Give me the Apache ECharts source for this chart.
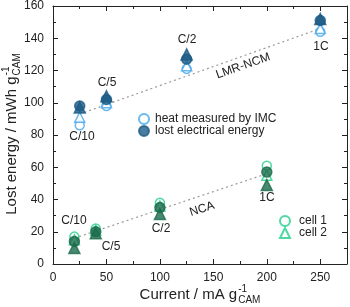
<!DOCTYPE html>
<html><head><meta charset="utf-8">
<script src="https://cdn.jsdelivr.net/npm/echarts@6/dist/echarts.min.js"></script>
<style>html,body{margin:0;padding:0;background:#fff}#c{width:350px;height:307px}</style>
</head><body><div id="c"></div>
<script>
// ---- data ----
const xTicks = [0, 50, 100, 150, 200, 250];
const yTicks = [0, 20, 40, 60, 80, 100, 120, 140, 160];
const lmrCurrent = [25, 50, 125, 250];
const lmrRates = ['C/10', 'C/5', 'C/2', '1C'];
const lmrHeatCell1 = [86, 98, 121, 144];
const lmrHeatCell2 = [91, 100, 123, 146];
const lmrLostCell1 = [98, 102, 127, 151];
const lmrLostCell2 = [97, 104, 130, 152];
const ncaCurrent = [20, 40, 100, 200];
const ncaRates = ['C/10', 'C/5', 'C/2', '1C'];
const ncaHeatCell1 = [17, 22, 38, 61];
const ncaHeatCell2 = [15, 21, 36, 55];
const ncaLostCell1 = [14, 20, 35, 57];
const ncaLostCell2 = [10, 19, 31, 49];
const lmrTrendX = [25, 250];
const lmrTrendY = [93, 146];
const ncaTrendX = [20, 200];
const ncaTrendY = [16, 56];

const FONT = 'Arial, "Liberation Sans", sans-serif';
const TXT = '#222';
const C_LB = '#45a6ee', C_DB = '#1b5b86', C_LG = '#22d08c', C_DG = '#1c6b4b';

const zip = (xs, ys) => xs.map((x, i) => [x, ys[i]]);

function scatter(name, xs, ys, symbol, size, fill, stroke, z) {
  return {
    type: 'scatter', name, data: zip(xs, ys), symbol, symbolSize: size, z,
    itemStyle: { color: fill, borderColor: stroke, borderWidth: 1.5 },
    emphasis: { disabled: true }
  };
}

const chart = echarts.init(document.getElementById('c'), null, { renderer: 'canvas' });

const axisCommon = {
  axisLine: { show: true, onZero: false, lineStyle: { color: '#222', width: 1 } },
  axisTick: { show: true, inside: true, length: 5, lineStyle: { color: '#222' } },
  minorTick: { show: true, splitNumber: 2, length: 3, lineStyle: { color: '#222' } },
  splitLine: { show: false }
};

const ctx = document.createElement('canvas').getContext('2d');
function tw(text, size) { ctx.font = size + 'px Arial, "Liberation Sans"'; return ctx.measureText(text).width; }

function axisTitle(main, cx, cy, rot) {
  const fs = 15, ss = 10;
  const w1 = tw(main, fs), w2 = tw('CAM', ss);
  const total = w1 + w2 + 1;
  const x0 = -total / 2;
  return {
    type: 'group', x: cx, y: cy, rotation: rot,
    children: [
      { type: 'text', x: x0, y: 0, style: { text: main, fill: TXT, font: fs + 'px ' + FONT, textAlign: 'left', textVerticalAlign: 'middle' } },
      { type: 'text', x: x0 + w1 + 1, y: 5, style: { text: 'CAM', fill: TXT, font: ss + 'px ' + FONT, textAlign: 'left', textVerticalAlign: 'middle' } },
      { type: 'text', x: x0 + w1 + 1, y: -6, style: { text: '-1', fill: TXT, font: ss + 'px ' + FONT, textAlign: 'left', textVerticalAlign: 'middle' } }
    ]
  };
}

function label(text, x, y, rot) {
  return { type: 'text', x, y, rotation: rot || 0, style: { text, fill: TXT, font: '12px ' + FONT, textAlign: 'center', textVerticalAlign: 'middle' }, z: 50 };
}

const option = {
  animation: false,
  backgroundColor: '#fff',
  grid: { left: 53, right: 2, top: 6, bottom: 43, containLabel: false },
  xAxis: [
    Object.assign({ type: 'value', min: 0, max: 275, interval: 50, position: 'bottom',
      axisLabel: { color: TXT, fontSize: 12, fontFamily: FONT, margin: 8,
        formatter: v => xTicks.includes(v) ? String(v) : '' } }, axisCommon),
    Object.assign({ type: 'value', min: 0, max: 275, interval: 50, position: 'top',
      axisLabel: { show: false } }, axisCommon)
  ],
  yAxis: [
    Object.assign({ type: 'value', min: 0, max: 160, interval: 20, position: 'left',
      axisLabel: { color: TXT, fontSize: 12, fontFamily: FONT, margin: 9,
        formatter: v => yTicks.includes(v) ? String(v) : '' } }, axisCommon),
    Object.assign({ type: 'value', min: 0, max: 160, interval: 20, position: 'right',
      axisLabel: { show: false } }, axisCommon)
  ],
  legend: [
    { orient: 'vertical', left: 133, top: 108, itemWidth: 10, itemHeight: 10, itemGap: 0,
      data: ['heat measured by IMC', 'lost electrical energy'],
      textStyle: { color: TXT, fontSize: 12, fontFamily: FONT, padding: [0, 0, 0, 1] }, selectedMode: false },
    { orient: 'vertical', left: 274, top: 210, itemWidth: 10, itemHeight: 10, itemGap: 0,
      data: ['cell 1', 'cell 2'],
      textStyle: { color: TXT, fontSize: 12, fontFamily: FONT, padding: [0, 0, 0, 4] }, selectedMode: false }
  ],
  series: [
    { type: 'line', data: zip(lmrTrendX, lmrTrendY), symbol: 'none', lineStyle: { color: '#9a9a9a', width: 1.2, type: [2, 3] }, z: 1, silent: true },
    { type: 'line', data: zip(ncaTrendX, ncaTrendY), symbol: 'none', lineStyle: { color: '#9a9a9a', width: 1.2, type: [2, 3] }, z: 1, silent: true },
    scatter('heat measured by IMC', lmrCurrent, lmrHeatCell1, 'circle', 9, '#fff', C_LB, 3),
    scatter('lmr heat c2', lmrCurrent, lmrHeatCell2, 'triangle', 10, '#fff', C_LB, 3),
    scatter('lost electrical energy', lmrCurrent, lmrLostCell1, 'circle', 10, C_DB, C_DB, 4),
    scatter('lmr lost c2', lmrCurrent, lmrLostCell2, 'triangle', 11, C_DB, C_DB, 4),
    scatter('cell 1', ncaCurrent, ncaHeatCell1, 'circle', 9, '#fff', C_LG, 3),
    scatter('cell 2', ncaCurrent, ncaHeatCell2, 'triangle', 10, '#fff', C_LG, 3),
    scatter('nca lost c1', ncaCurrent, ncaLostCell1, 'circle', 10, C_DG, C_DG, 4),
    scatter('nca lost c2', ncaCurrent, ncaLostCell2, 'triangle', 11, C_DG, C_DG, 4)
  ],
  graphic: [
    axisTitle('Current / mA g', 200, 295, 0),
    axisTitle('Lost energy / mWh g', 12, 134, Math.PI / 2),
    label(lmrRates[0], 82, 137), label(lmrRates[1], 107, 83), label(lmrRates[2], 187, 40), label(lmrRates[3], 321, 47),
    label('LMR-NCM', 243, 66, 19.5 * Math.PI / 180),
    label(ncaRates[0], 74, 221), label(ncaRates[1], 111, 247), label(ncaRates[2], 161, 229), label(ncaRates[3], 267, 198),
    label('NCA', 202, 209, 18 * Math.PI / 180)
  ]
};
chart.setOption(option);
</script></body></html>
